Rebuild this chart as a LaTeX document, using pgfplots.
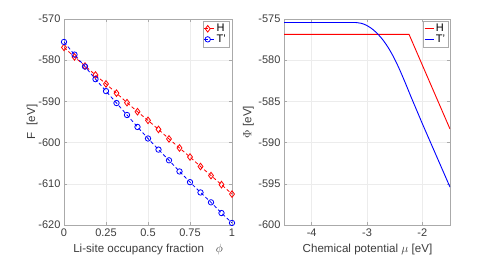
\documentclass[border=0pt]{standalone}
\usepackage{fontspec}
\setmainfont{Liberation Sans}
\usepackage{pgfplots}
\pgfplotsset{compat=1.18}
\definecolor{tickgray}{RGB}{60,60,60}
\definecolor{axgray}{RGB}{170,170,170}
\definecolor{gridgray}{RGB}{236,236,236}
\pgfplotstableread{
phi F
0 -576.9
0.0625 -579.2
0.125 -581.4
0.1875 -583.6
0.25 -585.75
0.3125 -588.0
0.375 -590.3
0.4375 -592.5
0.5 -594.6
0.5625 -596.8
0.625 -599.1
0.6875 -601.3
0.75 -603.5
0.8125 -605.8
0.875 -608.0
0.9375 -610.2
1 -612.5
}\tabH
\pgfplotstableread{
phi F
0 -575.57
0.0625 -578.64
0.125 -581.55
0.1875 -584.6
0.25 -587.5
0.3125 -590.4
0.375 -593.3
0.4375 -596.2
0.5 -599.0
0.5625 -601.7
0.625 -604.3
0.6875 -607.0
0.75 -609.6
0.8125 -612.1
0.875 -614.5
0.9375 -617.1
1 -619.5
}\tabT
\pgfplotstableread{
mu Phi
-4.5 -576.87
-2.24 -576.87
-1.5 -588.35
}\tabPH
\pgfplotstableread{
mu Phi
-4.5 -575.42
-3.25 -575.42
-3.2 -575.43
-3.15 -575.47
-3.1 -575.53
-3.05 -575.64
-3.0 -575.8
-2.95 -576.0
-2.9 -576.24
-2.85 -576.53
-2.8 -576.86
-2.75 -577.23
-2.7 -577.65
-2.65 -578.12
-2.6 -578.65
-2.55 -579.23
-2.5 -579.87
-2.45 -580.56
-2.4 -581.3
-2.35 -582.08
-2.3 -582.88
-2.25 -583.7
-2.2 -584.52
-2.0 -587.7
-1.5 -595.4
}\tabPT
\begin{document}
\begin{tikzpicture}
\useasboundingbox (0pt,0pt) rectangle (498pt,257pt);
\pgfplotsset{
 mystyle/.style={
  scale only axis, anchor=south west,
  height=206pt,
  axis line style={axgray},
  every tick/.style={axgray},
  major tick length=3pt,
  tick align=inside,
  grid=major, major grid style={gridgray, line width=0.5pt},
  tick label style={font=\fontsize{11}{13}\selectfont, text=tickgray},
  label style={font=\fontsize{11.6}{14}\selectfont, text=tickgray},
  /pgf/number format/assume math mode=true,
  legend style={font=\fontsize{11}{13}\selectfont, draw=axgray, fill=white, inner sep=1pt, row sep=-2.5pt, anchor=north east, text=black},
  legend cell align=left,
 }
}
\begin{axis}[mystyle,
  at={(64pt,32pt)}, width=168pt,
  xmin=0, xmax=1, ymin=-620, ymax=-570,
  xtick={0,0.25,0.5,0.75,1}, xticklabels={0,0.25,0.5,0.75,1},
  ytick={-620,-610,...,-570},
  xlabel={Li-site occupancy fraction\quad$\phi$},
  ylabel={F\,\, [eV]},
  xlabel style={at={(axis description cs:0.5,-0.121)}, anchor=center},
  ylabel style={at={(axis description cs:-0.19,0.5)}, anchor=center},
  legend style={at={(axis description cs:0.982,0.99)}},
  legend image code/.code={\draw[#1] (0pt,0pt) -- (10pt,0pt); \draw[#1, solid] plot coordinates {(3.5pt,0pt)};},
]
\addplot[red, line width=0.8pt, dash pattern=on 3.5pt off 2.5pt, mark=diamond, mark size=3.3pt, mark options={solid, line width=0.8pt}] table[x=phi,y=F] {\tabH};
\addlegendentry{H}
\addplot[blue, line width=0.8pt, dash pattern=on 3.5pt off 2.5pt, mark=o, mark size=2.7pt, mark options={solid, line width=0.8pt}] table[x=phi,y=F] {\tabT};
\addlegendentry{T'}
\end{axis}
\begin{axis}[mystyle,
  at={(284pt,32pt)}, width=166pt,
  xmin=-4.5, xmax=-1.5, ymin=-600, ymax=-575,
  xtick={-4,-3,-2},
  ytick={-600,-595,...,-575},
  xlabel={Chemical potential $\mu$ [eV]},
  ylabel={$\Phi$ [eV]},
  xlabel style={at={(axis description cs:0.503,-0.121)}, anchor=center},
  ylabel style={at={(axis description cs:-0.215,0.5)}, anchor=center},
  legend style={at={(axis description cs:0.99,0.99)}},
  legend image code/.code={\draw[#1] (0pt,0pt) -- (9pt,0pt);},
]
\addplot[red, line width=0.9pt] table[x=mu,y=Phi] {\tabPH};
\addlegendentry{H}
\addplot[blue, line width=0.9pt] table[x=mu,y=Phi] {\tabPT};
\addlegendentry{T'}
\end{axis}
\end{tikzpicture}
\end{document}
